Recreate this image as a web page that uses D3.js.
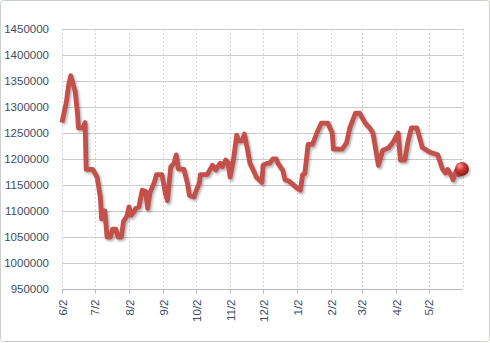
<!DOCTYPE html>
<html>
<head>
<meta charset="utf-8">
<script src="https://cdn.jsdelivr.net/npm/d3@7"></script>
<style>
  html, body { margin: 0; padding: 0; background: #fff; }
  svg { display: block; }
  text { font-family: "Liberation Sans", Arial, sans-serif; }
</style>
</head>
<body>
<svg id="chart" width="490" height="343"></svg>
<script>
// ---- data ----
const dates = [
  "2010-06-02","2010-06-06","2010-06-08","2010-06-10","2010-06-14","2010-06-16","2010-06-17","2010-06-21","2010-06-23","2010-06-24",
  "2010-06-30","2010-07-04","2010-07-07","2010-07-08","2010-07-09","2010-07-11","2010-07-13","2010-07-16","2010-07-18","2010-07-21",
  "2010-07-23","2010-07-26","2010-07-28","2010-07-31","2010-08-02","2010-08-04","2010-08-07","2010-08-08","2010-08-11","2010-08-14",
  "2010-08-17","2010-08-19","2010-08-21","2010-08-25","2010-08-27","2010-09-01","2010-09-04","2010-09-06","2010-09-09","2010-09-12",
  "2010-09-14","2010-09-16","2010-09-21","2010-09-24","2010-09-26","2010-09-30","2010-10-05","2010-10-06","2010-10-12","2010-10-13",
  "2010-10-17","2010-10-20","2010-10-24","2010-10-26","2010-10-29","2010-10-31","2010-11-02","2010-11-05","2010-11-08","2010-11-10",
  "2010-11-13","2010-11-15","2010-11-18","2010-11-20","2010-11-23","2010-11-26","2010-12-01","2010-12-02","2010-12-06","2010-12-08",
  "2010-12-11","2010-12-14","2010-12-16","2010-12-20","2010-12-22","2010-12-26","2011-01-02","2011-01-05","2011-01-07","2011-01-09",
  "2011-01-12","2011-01-16","2011-01-20","2011-01-24","2011-01-30","2011-02-03","2011-02-04","2011-02-12","2011-02-16","2011-02-19",
  "2011-02-24","2011-02-28","2011-03-05","2011-03-09","2011-03-12","2011-03-17","2011-03-21","2011-03-26","2011-03-30","2011-04-04",
  "2011-04-06","2011-04-10","2011-04-13","2011-04-16","2011-04-21","2011-04-26","2011-05-03","2011-05-10","2011-05-14","2011-05-17",
  "2011-05-19","2011-05-22","2011-05-24","2011-05-27","2011-05-29","2011-06-01"
];
const values = [
  1270000,1310000,1342000,1360000,1330000,1290000,1260000,1260000,1270000,1180000,
  1180000,1165000,1125000,1085000,1100000,1100000,1050000,1050000,1065000,1065000,
  1050000,1050000,1080000,1090000,1108000,1092000,1100000,1105000,1108000,1140000,
  1138000,1105000,1135000,1155000,1170000,1170000,1135000,1120000,1185000,1192000,
  1208000,1181000,1180000,1155000,1130000,1127000,1154000,1170000,1170000,1173000,
  1188000,1179000,1192000,1185000,1198000,1194000,1165000,1198000,1246000,1235000,
  1235000,1248000,1217000,1192000,1179000,1165000,1155000,1188000,1192000,1192000,
  1200000,1200000,1190000,1178000,1160000,1157000,1144000,1140000,1170000,1172000,
  1228000,1228000,1250000,1269000,1269000,1250000,1219000,1219000,1231000,1260000,
  1288000,1288000,1269000,1260000,1250000,1188000,1217000,1221000,1231000,1250000,
  1198000,1198000,1235000,1260000,1260000,1222000,1213000,1208000,1182000,1173000,
  1180000,1170000,1160000,1178000,1170000,1181000
];
const yTicks = [950000,1000000,1050000,1100000,1150000,1200000,1250000,1300000,1350000,1400000,1450000];
const xTickDates = ["2010-06-02","2010-07-02","2010-08-02","2010-09-02","2010-10-02","2010-11-02",
                    "2010-12-02","2011-01-02","2011-02-02","2011-03-02","2011-04-02","2011-05-02"];
const xTickLabels = ["6/2","7/2","8/2","9/2","10/2","11/2","12/2","1/2","2/2","3/2","4/2","5/2"];
const xDomain = ["2010-06-02","2011-06-02"];

// ---- chart ----
const parse = d3.utcParse("%Y-%m-%d");
const data = dates.map((d, i) => ({ date: parse(d), value: values[i] }));
const svg = d3.select("#chart");
const W = 490, H = 343;
const m = { left: 62, right: 27, top: 29, bottom: 54 };

svg.append("rect").attr("x", 0.5).attr("y", 0.5).attr("width", W - 1).attr("height", H - 2)
  .attr("rx", 3).attr("fill", "#fff").attr("stroke", "#c9d0c9");

const x = d3.scaleUtc().domain(xDomain.map(parse)).range([m.left, W - m.right]);
const y = d3.scaleLinear().domain([950000, 1450000]).range([H - m.bottom, m.top]);

const defs = svg.append("defs");
defs.append("filter").attr("id", "blur").append("feGaussianBlur").attr("stdDeviation", 1);
const rg = defs.append("radialGradient").attr("id", "ball").attr("cx", "35%").attr("cy", "30%").attr("r", "70%");
rg.append("stop").attr("offset", "0%").attr("stop-color", "#f7a0a0");
rg.append("stop").attr("offset", "45%").attr("stop-color", "#d03a36");
rg.append("stop").attr("offset", "100%").attr("stop-color", "#8a1a18");

// horizontal gridlines
svg.append("g").selectAll("line").data(yTicks).join("line")
  .attr("x1", m.left).attr("x2", W - m.right)
  .attr("y1", d => Math.round(y(d)) + 0.5).attr("y2", d => Math.round(y(d)) + 0.5)
  .attr("stroke", "#cacaca").attr("stroke-width", 1);

// vertical dashed gridlines
const vLines = xTickDates.map(parse).concat([parse(xDomain[1])]);
svg.append("g").selectAll("line").data(vLines).join("line")
  .attr("x1", d => Math.round(x(d)) + 0.5).attr("x2", d => Math.round(x(d)) + 0.5)
  .attr("y1", m.top).attr("y2", H - m.bottom)
  .attr("stroke", "#dcd0e0").attr("stroke-width", 1).attr("stroke-dasharray", "2,2");

// y axis labels
const yAxis = d3.axisLeft(y).tickValues(yTicks).tickSize(0).tickPadding(13).tickFormat(d3.format("d"));
const gy = svg.append("g").attr("transform", `translate(${m.left},0)`).call(yAxis);
gy.select(".domain").remove();
gy.selectAll("text").attr("font-size", 11.5).attr("fill", "#3d4d63");

// x axis
const xAxis = d3.axisBottom(x).tickValues(xTickDates.map(parse)).tickSize(4).tickPadding(5)
  .tickFormat((d, i) => xTickLabels[i]);
const gx = svg.append("g").attr("transform", `translate(0,${Math.round(y(950000)) + 0.5})`).call(xAxis);
gx.select(".domain").attr("stroke", "#b8b8b8").attr("d", `M${m.left},0H${W - m.right}`);
gx.selectAll(".tick line").attr("stroke", "#b8b8b8");
gx.selectAll("text")
  .attr("font-size", 11.5).attr("fill", "#3d4d63")
  .attr("text-anchor", "end").attr("dy", "0.35em")
  .attr("transform", "translate(0,10) rotate(-90)")
  .attr("x", 0).attr("y", 0);

// line
const line = d3.line().x(d => x(d.date)).y(d => y(d.value));
svg.append("path").datum(data).attr("d", line)
  .attr("fill", "none").attr("stroke", "rgba(0,0,0,0.28)").attr("stroke-width", 5)
  .attr("stroke-linejoin", "round").attr("transform", "translate(1.5,2)").attr("filter", "url(#blur)");
svg.append("path").datum(data).attr("d", line)
  .attr("fill", "none").attr("stroke", "#c4504c").attr("stroke-width", 4.8)
  .attr("stroke-linejoin", "round");

// end marker
const last = data[data.length - 1];
svg.append("circle").attr("cx", x(last.date) + 1.5).attr("cy", y(last.value) + 2).attr("r", 7)
  .attr("fill", "rgba(0,0,0,0.25)").attr("filter", "url(#blur)");
svg.append("circle").attr("cx", x(last.date)).attr("cy", y(last.value)).attr("r", 7)
  .attr("fill", "url(#ball)");
</script>
</body>
</html>
